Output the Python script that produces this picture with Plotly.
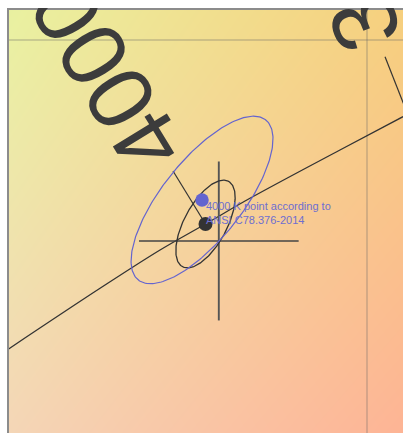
import base64
import struct
import zlib

import numpy as np
import plotly.graph_objects as go

W, H = 403, 433
M_L, M_T = 9, 10
PW, PH = W - M_L, H - M_T

# CIE 1931 chromaticity window
X_RANGE = [0.356745, 0.404416]
Y_RANGE = [0.350391, 0.403719]

# Planckian locus (x, y)
planck_x = [0.35650, 0.36776, 0.37502, 0.38052, 0.38590, 0.39679, 0.40442]
planck_y = [0.36085, 0.36863, 0.37346, 0.37674, 0.37998, 0.38607, 0.39027]

# isotherms: start on the locus, end above it
iso_cct = [4000, 3500]
iso_x0 = [0.38052, 0.40494]
iso_y0 = [0.37674, 0.39070]
iso_x1 = [0.37659, 0.40224]
iso_y1 = [0.38342, 0.39783]

# Planckian 4000 K point and the ANSI C78.376-2014 4000 K point
planck_pt = [0.38052, 0.37674]
ansi_pt = [0.38010, 0.37977]

# tolerance ellipses: centre x, centre y, semi-axis a, semi-axis b, tilt (deg)
ansi_ellipse = [0.38010, 0.37977, 0.0127, 0.0049, 53.0]
planck_ellipse = [0.38052, 0.37674, 0.00606, 0.00260, 63.1]

# cross marker: centre and half-lengths
cross_c = [0.38213, 0.37460]
cross_half = [0.00966, 0.01002]

ansi_label = "4000 K point according to<br>ANSI C78.376-2014"

BLUE = "#6464cf"
DARK = "#333333"


def to_px(x, y):
    px = M_L + (x - X_RANGE[0]) / (X_RANGE[1] - X_RANGE[0]) * PW
    py = M_T + (Y_RANGE[1] - y) / (Y_RANGE[1] - Y_RANGE[0]) * PH
    return px, py


def ellipse_xy(params, n=240):
    cx, cy, a, b, ang = params
    t = np.linspace(0, 2 * np.pi, n)
    th = np.radians(ang)
    ex = cx + a * np.cos(t) * np.cos(th) - b * np.sin(t) * np.sin(th)
    ey = cy + a * np.cos(t) * np.sin(th) + b * np.sin(t) * np.cos(th)
    return ex, ey


def png_uri(rgb):
    h, w, _ = rgb.shape
    raw = b"".join(b"\x00" + rgb[i].tobytes() for i in range(h))

    def chunk(tag, data):
        return (struct.pack(">I", len(data)) + tag + data
                + struct.pack(">I", zlib.crc32(tag + data) & 0xFFFFFFFF))

    png = (b"\x89PNG\r\n\x1a\n"
           + chunk(b"IHDR", struct.pack(">IIBBBBB", w, h, 8, 2, 0, 0, 0))
           + chunk(b"IDAT", zlib.compress(raw, 9))
           + chunk(b"IEND", b""))
    return "data:image/png;base64," + base64.b64encode(png).decode()


# chromaticity colour field behind the plot
nx, ny = PW, PH
gx = X_RANGE[0] + (np.arange(nx) + 0.5) / nx * (X_RANGE[1] - X_RANGE[0])
gy = Y_RANGE[1] - (np.arange(ny) + 0.5) / ny * (Y_RANGE[1] - Y_RANGE[0])
xx, yy = np.meshgrid(gx, gy)
XYZ = np.stack([xx / yy, np.ones_like(xx), (1 - xx - yy) / yy], -1)
M = np.array([[3.2406, -1.5372, -0.4986],
              [-0.9689, 1.8758, 0.0415],
              [0.0557, -0.2040, 1.0570]])
lin = np.clip(XYZ @ M.T, 0, None)
lin /= lin.max(-1, keepdims=True)
srgb = np.where(lin <= 0.0031308, 12.92 * lin, 1.055 * lin ** (1 / 2.4) - 0.055)
shade = 1.05 - 0.135 * (lin[..., 1] / np.maximum(lin[..., 0], 1e-6))
srgb = srgb * shade[..., None]
srgb[..., 1] += 0.028
srgb[..., 2] -= 0.016
srgb = np.clip(srgb, 0, 1)
bg_img = (srgb * 255 + 0.5).astype(np.uint8)

fig = go.Figure()

# Planckian locus
fig.add_trace(go.Scatter(x=planck_x, y=planck_y, mode="lines",
                         line=dict(color=DARK, width=1.3, shape="spline"),
                         hoverinfo="skip"))

# isotherms
for i in range(len(iso_cct)):
    fig.add_trace(go.Scatter(x=[iso_x0[i], iso_x1[i]], y=[iso_y0[i], iso_y1[i]],
                             mode="lines", line=dict(color=DARK, width=1.2),
                             hoverinfo="skip"))

# cross
fig.add_trace(go.Scatter(x=[cross_c[0] - cross_half[0], cross_c[0] + cross_half[0]],
                         y=[cross_c[1], cross_c[1]], mode="lines",
                         line=dict(color="#444444", width=1.6), hoverinfo="skip"))
fig.add_trace(go.Scatter(x=[cross_c[0], cross_c[0]],
                         y=[cross_c[1] - cross_half[1], cross_c[1] + cross_half[1]],
                         mode="lines", line=dict(color="#555555", width=1.9),
                         hoverinfo="skip"))

# ellipses
ex, ey = ellipse_xy(planck_ellipse)
fig.add_trace(go.Scatter(x=ex, y=ey, mode="lines",
                         line=dict(color=DARK, width=1.3), hoverinfo="skip"))
ex, ey = ellipse_xy(ansi_ellipse)
fig.add_trace(go.Scatter(x=ex, y=ey, mode="lines",
                         line=dict(color=BLUE, width=1.2), hoverinfo="skip"))

# points
fig.add_trace(go.Scatter(x=[planck_pt[0]], y=[planck_pt[1]], mode="markers",
                         marker=dict(color=DARK, size=14), hoverinfo="skip"))
fig.add_trace(go.Scatter(x=[ansi_pt[0]], y=[ansi_pt[1]], mode="markers",
                         marker=dict(color=BLUE, size=13.5), hoverinfo="skip"))

annotations = []

# CCT labels continuing each isotherm beyond its upper end
for i in range(len(iso_cct)):
    sx, sy = to_px(iso_x0[i], iso_y0[i])
    ex_, ey_ = to_px(iso_x1[i], iso_y1[i])
    dx, dy = ex_ - sx, ey_ - sy
    ln = np.hypot(dx, dy)
    ux, uy = dx / ln, dy / ln
    nxv, nyv = -uy, ux
    cx = ex_ + 115.5 * ux - 7 * nxv
    cy = ey_ + 115.5 * uy - 7 * nyv
    ang = float(np.degrees(np.arctan2(uy, ux)))
    annotations.append(dict(
        text=str(iso_cct[i]), xref="paper", yref="paper",
        x=(cx - M_L) / PW, y=(M_T + PH - cy) / PH,
        xanchor="center", yanchor="middle", showarrow=False,
        textangle=ang,
        font=dict(family="Liberation Sans, Arial, sans-serif", size=92,
                  color="#3c3c3c")))

annotations.append(dict(
    text=ansi_label, x=ansi_pt[0], y=ansi_pt[1], xref="x", yref="y",
    xanchor="left", yanchor="middle", align="left", showarrow=False,
    xshift=2, yshift=-13,
    font=dict(family="Liberation Sans, Arial, sans-serif", size=11,
              color="#6e6ed0")))

# blank strip above the plot area
annotations.append(dict(
    text=" ", xref="paper", yref="paper", x=0.5, y=1, xanchor="center",
    yanchor="bottom", yshift=1.6, width=500, height=12, bgcolor="white",
    borderpad=0, borderwidth=0, showarrow=False))

axis_common = dict(showline=True, mirror=False, linecolor="#8c8c8c", linewidth=1.5,
                   showgrid=True, gridcolor="rgba(100,100,100,0.25)", gridwidth=1.5,
                   zeroline=False, ticks="", showticklabels=False,
                   tick0=0, dtick=0.05)

fig.update_layout(
    width=W, height=H,
    margin=dict(l=M_L, r=0, t=M_T, b=0, pad=0),
    paper_bgcolor="white", plot_bgcolor="white",
    showlegend=False,
    xaxis=dict(range=X_RANGE, side="top", **axis_common),
    yaxis=dict(range=Y_RANGE, side="left", **axis_common),
    annotations=annotations,
    images=[dict(source=png_uri(bg_img), xref="x", yref="y",
                 x=X_RANGE[0], y=Y_RANGE[1],
                 sizex=X_RANGE[1] - X_RANGE[0], sizey=Y_RANGE[1] - Y_RANGE[0],
                 xanchor="left", yanchor="top", sizing="stretch", layer="below")],
)

fig.write_html("out.html")
